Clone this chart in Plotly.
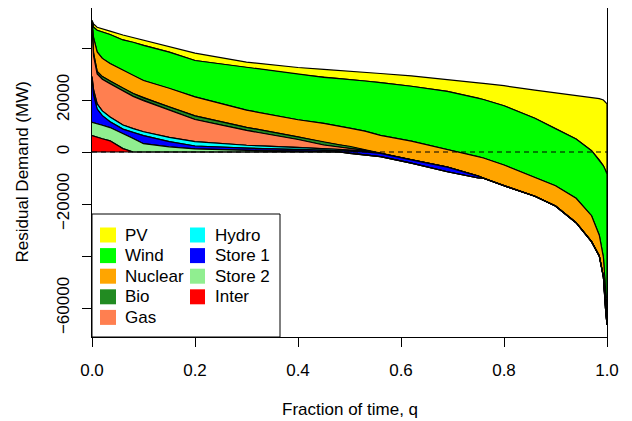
import plotly.graph_objects as go

# Fraction of time (duration-curve abscissa)
q = [0, 0.003, 0.01, 0.02, 0.035, 0.06, 0.08, 0.1, 0.15, 0.2, 0.3, 0.4, 0.45, 0.48, 0.5,
     0.53, 0.56, 0.62, 0.69, 0.75, 0.76, 0.8, 0.86, 0.9, 0.94, 0.97, 0.985, 0.993, 0.997, 1.0]

# Residual demand curves (MW) after successively removing each source
demand = [50600, 49300, 48000, 47300, 46500, 45000, 44000, 43000, 40500, 38000, 34600, 32500, 31800, 31300, 31000,
          30600, 30200, 29300, 28000, 26600, 26400, 25500, 23800, 22800, 21800, 21000, 20500, 20000, 19300, 18500]
after_pv = [50600, 48000, 46800, 46200, 45200, 43100, 42200, 41000, 38400, 35200, 32500, 29800, 28700, 28200, 27900,
            27300, 26700, 25300, 23300, 20700, 20200, 17800, 13000, 9000, 5000, 500, -3000, -5300, -7000, -8500]
after_wind = [50000, 44000, 38500, 36000, 34000, 31500, 29300, 27500, 24500, 21200, 16100, 12400, 11000, 10000, 9200,
              8000, 6400, 4200, 900, -1800, -2300, -5000, -9800, -13000, -17800, -24500, -32000, -40500, -52000, -64000]
after_nuclear = [48500, 38000, 31000, 29000, 27300, 24500, 22500, 20800, 17300, 13900, 9500, 5800, 3700, 2800, 2200,
                 900, -500, -3000, -5800, -9300, -10100, -13000, -17000, -20800, -27200, -34500, -40000, -48000, -60000, -66500]
after_bio = [47500, 37000, 30000, 28000, 26300, 23400, 21400, 19700, 16200, 12500, 8300, 4800, 2700, 1900, 1300,
             600, -500, -3000, -5800, -9300, -10100, -13000, -17000, -20800, -27200, -34500, -40000, -48000, -60000, -66500]
after_gas = [29000, 24000, 18500, 15800, 13500, 10400, 9000, 7800, 5600, 4000, 2600, 1800, 1300, 1000, 700,
             300, -500, -3000, -5800, -9300, -10100, -13000, -17000, -20800, -27200, -34500, -40000, -48000, -60000, -66500]
after_hydro = [28500, 22000, 16500, 14000, 11600, 8800, 7500, 6300, 4000, 2300, 1500, 1000, 700, 500, 300,
               0, -500, -3000, -5800, -9300, -10100, -13000, -17000, -20800, -27200, -34500, -40000, -48000, -60000, -66500]
after_store1 = [11400, 11200, 10800, 10300, 9400, 7200, 5200, 3200, 2000, 1200, 600, 300, 100, 0, -500,
                -1100, -1800, -4300, -7600, -10000, -10100, -13000, -17000, -20800, -27200, -34500, -40000, -48000, -60000, -66500]
after_store2 = [6300, 6100, 5700, 5100, 4300, 1300, 0, 0, 0, 0, 0, 0, 0, 0, -500,
                -1100, -1800, -4300, -7600, -10000, -10100, -13000, -17000, -20800, -27200, -34500, -40000, -48000, -60000, -66500]
after_inter = [0, 0, 0, 0, 0, 0, 0, 0, 0, 0, 0, 0, 0, 0, -500,
               -1100, -1800, -4300, -7600, -10000, -10100, -13000, -17000, -20800, -27200, -34500, -40000, -48000, -60000, -66500]

sources = ["PV", "Wind", "Nuclear", "Bio", "Gas", "Hydro", "Store 1", "Store 2", "Inter"]
colors = ["#FFFF00", "#00FF00", "#FFA500", "#228B22", "#FF7F50", "#00FFFF", "#0000FF", "#90EE90", "#FF0000"]

x_ticks = [0, 0.2, 0.4, 0.6, 0.8, 1.0]
x_labels = ["0.0", "0.2", "0.4", "0.6", "0.8", "1.0"]
y_ticks = [-60000, -40000, -20000, 0, 20000, 40000]
y_labels = ["\u221260000", "", "\u221220000", "0", "20000", ""]

bounds = [demand, after_pv, after_wind, after_nuclear, after_bio, after_gas,
          after_hydro, after_store1, after_store2, after_inter]

FONT = "Liberation Sans, Arial, Helvetica, sans-serif"
FS = 17

fig = go.Figure()
for i, name in enumerate(sources):
    up = bounds[i]
    lo = bounds[i + 1]
    fig.add_trace(go.Scatter(
        x=q + q[::-1], y=up + lo[::-1], mode="lines", fill="toself",
        fillcolor=colors[i], line=dict(color="black", width=1.2),
        name=name, showlegend=False, hoverinfo="skip"))

fig.add_trace(go.Scatter(x=[0, 1], y=[0, 0], mode="lines",
                         line=dict(color="black", width=1.2, dash="5px,4px"),
                         showlegend=False, hoverinfo="skip"))

# The page body adds an 8px offset; size the figure so the plot lands at page pixels
OFF = 8
W, H = 632 - OFF, 421 - OFF
PL, PR, PT, PB = 92, 607, 8, 337          # plot area in page pixels
L, R, T, B = PL - OFF, W - (PR - OFF), PT - OFF, H - (PB - OFF)
pw = W - L - R
ph = H - T - B


def px(x):
    return (x - OFF - L) / pw


def py(y):
    return (H - B - (y - OFF)) / ph


shapes = [dict(type="rect", xref="paper", yref="paper", x0=px(92), x1=px(280), y0=py(337), y1=py(214),
               line=dict(color="black", width=1), fillcolor="white", layer="above")]
annotations = []
col_sq = [(100, 116, 123), (190, 205, 213)]
rows = [sources[:5], sources[5:]]
for c, names in enumerate(rows):
    sx0, sx1, tx = col_sq[c]
    for r, name in enumerate(names):
        yc = 235 + 20.6 * r
        shapes.append(dict(type="rect", xref="paper", yref="paper", x0=px(sx0), x1=px(sx1),
                           y0=py(yc + 7.5), y1=py(yc - 7.5), line=dict(width=0),
                           fillcolor=colors[sources.index(name)], layer="above"))
        annotations.append(dict(text=name, xref="paper", yref="paper", x=px(tx), y=py(yc),
                                xanchor="left", yanchor="middle", showarrow=False,
                                font=dict(family=FONT, size=FS, color="black")))

annotations.append(dict(text="Fraction of time, q", xref="paper", yref="paper", x=0.5, y=py(410),
                        xanchor="center", yanchor="middle", showarrow=False,
                        font=dict(family=FONT, size=FS, color="black")))
annotations.append(dict(text="Residual Demand (MW)", xref="paper", yref="paper", x=px(22), y=0.5,
                        xanchor="center", yanchor="middle", showarrow=False, textangle=-90,
                        font=dict(family=FONT, size=FS, color="black")))

fig.update_layout(
    width=W, height=H, margin=dict(l=L, r=R, t=T, b=B, autoexpand=False),
    paper_bgcolor="white", plot_bgcolor="white",
    font=dict(family=FONT, size=FS, color="black"),
    shapes=shapes, annotations=annotations, showlegend=False,
    xaxis=dict(range=[0, 1], tickvals=x_ticks, ticktext=x_labels, ticks="outside", ticklen=9,
               tickwidth=1, tickcolor="black", showline=True, linecolor="black", linewidth=1,
               mirror=True, showgrid=False, zeroline=False, ticklabelstandoff=9,
               tickfont=dict(family=FONT, size=FS, color="black")),
    yaxis=dict(range=[-71154, 55385], tickvals=y_ticks, ticktext=y_labels, ticks="outside", ticklen=9,
               tickwidth=1, tickcolor="black", showline=True, linecolor="black", linewidth=1,
               mirror=True, showgrid=False, zeroline=False, tickangle=-90, ticklabelstandoff=6,
               tickfont=dict(family=FONT, size=FS, color="black")),
)

fig.write_html("out.html")
